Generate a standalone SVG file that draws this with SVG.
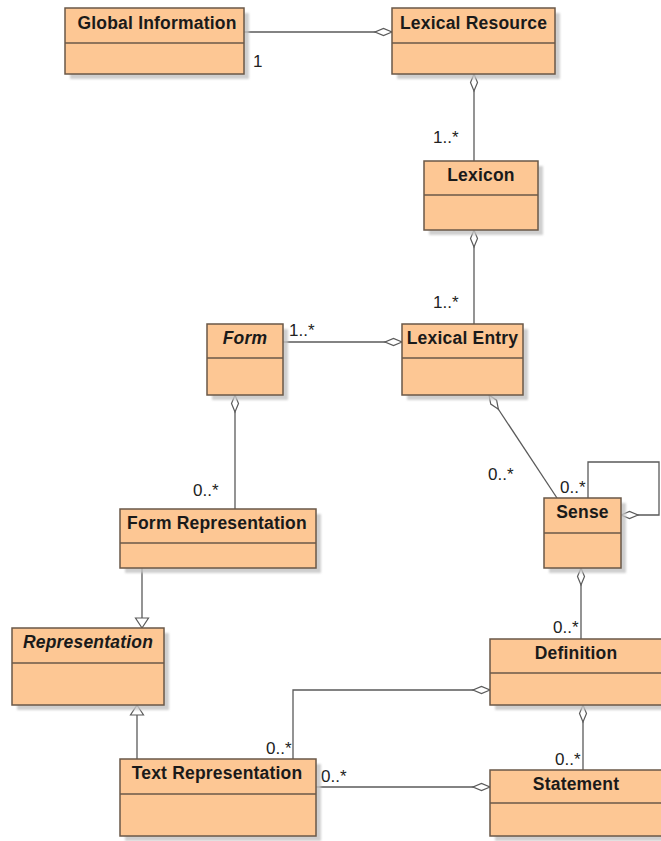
<svg xmlns="http://www.w3.org/2000/svg" width="661" height="841" viewBox="0 0 661 841">
<defs>
<style>
.shadow{fill:#c4c4c4;opacity:0.8}
.box{fill:#fdc794;stroke:#6a5848;stroke-width:1.5}
.div{stroke:#6a5848;stroke-width:1.3}
.title{font-family:"Liberation Sans",Arial,sans-serif;font-weight:bold;font-size:17.5px;letter-spacing:0.2px;fill:#1a1a1a;text-anchor:middle}
.it{font-style:italic}
.mult{font-family:"Liberation Sans",Arial,sans-serif;font-size:17px;fill:#222}
.conn{stroke:#5a5a5a;stroke-width:1.3;fill:none}
.agg{marker-start:url(#diamond)}
.gen{marker-end:url(#tri)}
</style>
<filter id="blur" x="-10%" y="-10%" width="120%" height="120%"><feGaussianBlur stdDeviation="1.2"/></filter>
<marker id="diamond" markerUnits="userSpaceOnUse" viewBox="-1 -5 19 10" refX="0" refY="0" markerWidth="19" markerHeight="10" orient="auto" overflow="visible">
<path d="M0,0 L8.5,-3.5 L17,0 L8.5,3.5 Z" fill="#fff" stroke="#5a5a5a" stroke-width="1.2"/>
</marker>
<marker id="tri" markerUnits="userSpaceOnUse" viewBox="-12 -8 13 16" refX="0" refY="0" markerWidth="13" markerHeight="16" orient="auto" overflow="visible">
<path d="M0,0 L-10,-6.5 L-10,6.5 Z" fill="#fff" stroke="#5a5a5a" stroke-width="1.2"/>
</marker>
</defs>
<rect width="661" height="841" fill="#fff"/>

<g id="connectors">
<path class="conn agg" d="M392,32 L244,32"/>
<path class="conn agg" d="M474,74 L474,161"/>
<path class="conn agg" d="M474,230 L474,324"/>
<path class="conn agg" d="M402,342 L283,342"/>
<path class="conn agg" d="M235,395 L235,509"/>
<path class="conn agg" d="M489,395 L557,498"/>
<path class="conn agg" d="M621,515 L659,515 L659,462 L588,462 L588,498"/>
<path class="conn agg" d="M581,568 L581,639"/>
<path class="conn agg" d="M583,705 L583,770"/>
<path class="conn agg" d="M490,690 L293,690 L293,759"/>
<path class="conn agg" d="M490,787 L316,787"/>
<path class="conn gen" d="M142,568 L142,628"/>
<path class="conn gen" d="M137,759 L137,705"/>
<text class="mult" x="253" y="67">1</text>
<text class="mult" x="433" y="143">1..*</text>
<text class="mult" x="433" y="308">1..*</text>
<text class="mult" x="289" y="336">1..*</text>
<text class="mult" x="193" y="496">0..*</text>
<text class="mult" x="488" y="480">0..*</text>
<text class="mult" x="560" y="493">0..*</text>
<text class="mult" x="553" y="633">0..*</text>
<text class="mult" x="555" y="765">0..*</text>
<text class="mult" x="266" y="754">0..*</text>
<text class="mult" x="321" y="782">0..*</text>
</g>

<g id="global-information">
<rect class="shadow" filter="url(#blur)" x="70" y="13" width="179" height="66"/>
<rect class="box" x="65" y="8" width="179" height="66"/>
<line class="div" x1="65" y1="43" x2="244" y2="43"/>
<text class="title" x="157" y="29">Global Information</text>
</g>

<g id="lexical-resource">
<rect class="shadow" filter="url(#blur)" x="397" y="13" width="163" height="66"/>
<rect class="box" x="392" y="8" width="163" height="66"/>
<line class="div" x1="392" y1="43" x2="555" y2="43"/>
<text class="title" x="473.5" y="29">Lexical Resource</text>
</g>

<g id="lexicon">
<rect class="shadow" filter="url(#blur)" x="429" y="166" width="114" height="69"/>
<rect class="box" x="424" y="161" width="114" height="69"/>
<line class="div" x1="424" y1="195" x2="538" y2="195"/>
<text class="title" x="481" y="181">Lexicon</text>
</g>

<g id="lexical-entry">
<rect class="shadow" filter="url(#blur)" x="407" y="329" width="121" height="71"/>
<rect class="box" x="402" y="324" width="121" height="71"/>
<line class="div" x1="402" y1="358" x2="523" y2="358"/>
<text class="title" x="462.5" y="344">Lexical Entry</text>
</g>

<g id="form">
<rect class="shadow" filter="url(#blur)" x="212" y="329" width="76" height="71"/>
<rect class="box" x="207" y="324" width="76" height="71"/>
<line class="div" x1="207" y1="358" x2="283" y2="358"/>
<text class="title it" x="245" y="344">Form</text>
</g>

<g id="form-representation">
<rect class="shadow" filter="url(#blur)" x="125" y="514" width="196" height="59"/>
<rect class="box" x="120" y="509" width="196" height="59"/>
<line class="div" x1="120" y1="543" x2="316" y2="543"/>
<text class="title" x="217" y="529">Form Representation</text>
</g>

<g id="representation">
<rect class="shadow" filter="url(#blur)" x="17" y="633" width="152" height="77"/>
<rect class="box" x="12" y="628" width="152" height="77"/>
<line class="div" x1="12" y1="663" x2="164" y2="663"/>
<text class="title it" x="88" y="648">Representation</text>
</g>

<g id="sense">
<rect class="shadow" filter="url(#blur)" x="549" y="503" width="77" height="70"/>
<rect class="box" x="544" y="498" width="77" height="70"/>
<line class="div" x1="544" y1="533" x2="621" y2="533"/>
<text class="title" x="582.5" y="518">Sense</text>
</g>

<g id="definition">
<rect class="shadow" filter="url(#blur)" x="495" y="644" width="175" height="66"/>
<rect class="box" x="490" y="639" width="175" height="66"/>
<line class="div" x1="490" y1="673" x2="665" y2="673"/>
<text class="title" x="576" y="659">Definition</text>
</g>

<g id="statement">
<rect class="shadow" filter="url(#blur)" x="495" y="775" width="175" height="66"/>
<rect class="box" x="490" y="770" width="175" height="66"/>
<line class="div" x1="490" y1="803" x2="665" y2="803"/>
<text class="title" x="576" y="790">Statement</text>
</g>

<g id="text-representation">
<rect class="shadow" filter="url(#blur)" x="125" y="764" width="196" height="77"/>
<rect class="box" x="120" y="759" width="196" height="77"/>
<line class="div" x1="120" y1="794" x2="316" y2="794"/>
<text class="title" x="217" y="779">Text Representation</text>
</g>
</svg>
